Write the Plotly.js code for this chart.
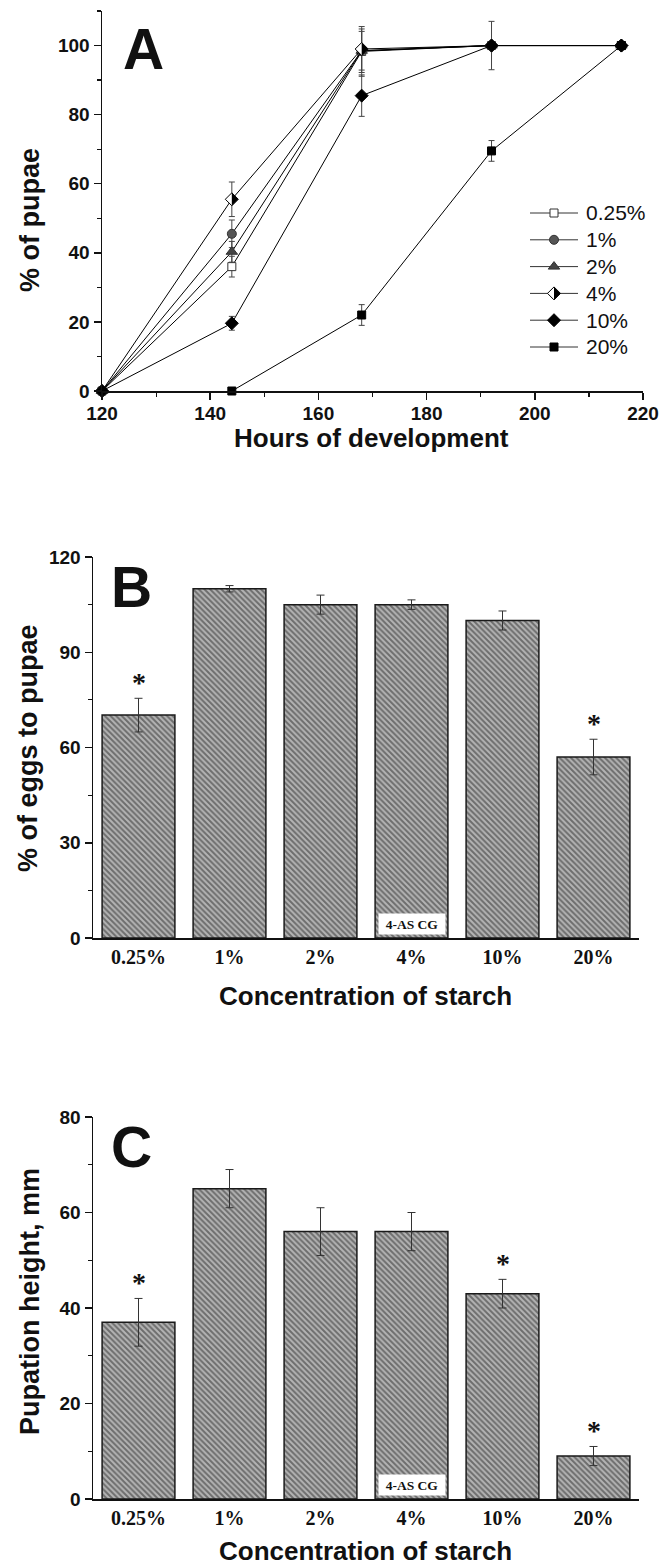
<!DOCTYPE html>
<html><head><meta charset="utf-8">
<script src="https://cdn.plot.ly/plotly-3.0.1.min.js"></script>
<style>html,body{margin:0;padding:0;background:#fff}</style>
</head><body><div id="chart" style="width:662px;height:1568px"></div>
<script>
// ---------- Panel A data ----------
const hours = [120, 144, 168, 192, 216];
const seriesNames = ['0.25%', '1%', '2%', '4%', '10%', '20%'];
const pupae025 = [0, 36, 98.3, 100, 100];
const err025   = [0, 3, 7.2, 0, 0];
const pupae1   = [0, 45.5, 98.5, 100, 100];
const err1     = [0, 4, 6.3, 0, 0];
const pupae2   = [0, 40.3, 98.5, 100, 100];
const err2     = [0, 3, 5.6, 0, 0];
const pupae4   = [0, 55.5, 99, 100, 100];
const err4     = [0, 5, 0, 0, 0];
const pupae10  = [0, 19.6, 85.5, 100, 100];
const err10    = [0, 2, 6, 7, 0];
const pupae20  = [null, 0, 22, 69.5, 100];
const err20    = [0, 0, 3, 3, 0];

// ---------- Panel B / C data ----------
const concentrations = ['0.25%', '1%', '2%', '4%', '10%', '20%'];
const eggsToPupae = [70.2, 110, 105, 105, 100, 57];
const eggsErr     = [5.3, 1, 3, 1.5, 3, 5.6];
const eggsSig     = [true, false, false, false, false, true];
const pupationHeight = [37, 65, 56, 56, 43, 9];
const heightErr      = [5, 4, 5, 4, 3, 2];
const heightSig      = [true, false, false, false, true, true];
const controlLabel = '4-AS CG';
const controlCategory = '4%';

// ---------- helpers (page pixels -> paper) ----------
const W = 662, H = 1568;
const px = x => x / W;
const py = y => 1 - y / H;

const SANS = 'Liberation Sans, Arial, sans-serif';
const SERIF = 'Liberation Serif, Times New Roman, serif';

const seriesData = [pupae025, pupae1, pupae2, pupae4, pupae10, pupae20];
const seriesErr  = [err025, err1, err2, err4, err10, err20];
const seriesMarker = [
  {symbol: 'square', size: 8, color: '#ffffff', line: {color: '#333', width: 1}},
  {symbol: 'circle', size: 9, color: '#555555', line: {color: '#333', width: 1}},
  {symbol: 'triangle-up', size: 10, color: '#444444', line: {color: '#333', width: 1}},
  {symbol: 'diamond', size: 10, color: '#ffffff', line: {color: '#000', width: 1}},
  {symbol: 'diamond', size: 10, color: '#000000', line: {color: '#000', width: 1}},
  {symbol: 'square', size: 8, color: '#000000', line: {color: '#000', width: 1}}
];
const halfDiamondPath = 'M0,6.5 L6.5,0 L0,-6.5 Z';

const traces = [];
const shapes = [];
const annotations = [];

seriesNames.forEach((name, i) => {
  traces.push({
    type: 'scatter', mode: 'lines+markers', name: name,
    x: hours, y: seriesData[i], xaxis: 'x', yaxis: 'y',
    line: {color: '#000', width: 1},
    marker: seriesMarker[i],
    error_y: {type: 'data', array: seriesErr[i], visible: true, color: '#444', thickness: 1, width: 3},
    cliponaxis: false, showlegend: false, hoverinfo: 'skip'
  });
});
// right half of the half-filled 4% diamonds
hours.forEach((h, j) => {
  if (pupae4[j] === null) return;
  shapes.push({type: 'path', xref: 'x', yref: 'y', xsizemode: 'pixel', ysizemode: 'pixel',
    xanchor: h, yanchor: pupae4[j], path: halfDiamondPath,
    fillcolor: '#000', line: {width: 0}, layer: 'above'});
});

// custom legend, drawn on an invisible page-pixel axis (x4/y4)
const legendRow0 = 213, legendStep = 26.8;
seriesNames.forEach((name, i) => {
  const ry = legendRow0 + i * legendStep;
  traces.push({type: 'scatter', mode: 'lines', x: [530, 578], y: [ry, ry], xaxis: 'x4', yaxis: 'y4',
    line: {color: '#333', width: 1}, showlegend: false, hoverinfo: 'skip'});
  traces.push({type: 'scatter', mode: 'markers', x: [554], y: [ry], xaxis: 'x4', yaxis: 'y4',
    marker: seriesMarker[i], showlegend: false, hoverinfo: 'skip', cliponaxis: false});
  if (i === 3) {
    shapes.push({type: 'path', xref: 'x4', yref: 'y4',
      path: `M554,${ry - 6.5} L560.5,${ry} L554,${ry + 6.5} Z`, fillcolor: '#000', line: {width: 0}, layer: 'above'});
  }
  annotations.push({xref: 'paper', yref: 'paper', x: px(584), y: py(ry), xanchor: 'left', yanchor: 'middle',
    text: name, showarrow: false, font: {family: SANS, size: 21, color: '#111'}});
});

// ---------- bars ----------
const barStyle = {
  color: '#b4b4b4',
  line: {color: '#1a1a1a', width: 1.5},
  pattern: {shape: '\\', fillmode: 'overlay', fgcolor: '#262626', size: 4, solidity: 0.5}
};
function addBars(values, errs, sig, xa, ya) {
  traces.push({type: 'bar', x: concentrations, y: values, xaxis: xa, yaxis: ya, width: 0.8,
    marker: barStyle,
    error_y: {type: 'data', array: errs, visible: true, color: '#333', thickness: 1, width: 4},
    showlegend: false, hoverinfo: 'skip'});
  concentrations.forEach((c, i) => {
    if (!sig[i]) return;
    annotations.push({xref: xa, yref: ya, x: c, y: values[i] + errs[i], yanchor: 'middle', yshift: 16,
      text: '*', showarrow: false, font: {family: SERIF, size: 28, color: '#111', weight: 'bold'}});
  });
  annotations.push({xref: xa, yref: ya, x: controlCategory, y: 0, yanchor: 'bottom', yshift: 3,
    text: controlLabel, showarrow: false, bgcolor: '#ffffff', width: 64, height: 18,
    font: {family: SERIF, size: 13.5, color: '#111', weight: 'bold'}});
}
addBars(eggsToPupae, eggsErr, eggsSig, 'x2', 'y2');
addBars(pupationHeight, heightErr, heightSig, 'x3', 'y3');

// ---------- titles & panel letters ----------
function title(text, x, y, angle, size) {
  annotations.push({xref: 'paper', yref: 'paper', x: px(x), y: py(y), xanchor: 'center', yanchor: 'middle',
    text: text, textangle: angle || 0, showarrow: false,
    font: {family: SANS, size: size || 26, color: '#111', weight: 'bold'}});
}
title('% of pupae', 30, 220, -90, 27);
title('Hours of development', 371, 438, 0, 26);
title('% of eggs to pupae', 28, 748, -90, 27);
title('Concentration of starch', 365, 996, 0, 26);
title('Pupation height, mm', 30, 1302, -90, 27);
title('Concentration of starch', 365, 1551, 0, 26);
title('A', 143, 49, 0, 57);
title('B', 131, 587, 0, 57);
title('C', 131, 1147, 0, 57);

// ---------- axes ----------
const tickFontSans = {family: SANS, size: 19, color: '#111', weight: 'bold'};
const tickFontSerif = {family: SERIF, size: 20, color: '#111', weight: 'bold'};
const baseAxis = {showline: true, linecolor: '#111', linewidth: 1.5, showgrid: false, zeroline: false,
  ticks: 'outside', ticklen: 7, tickwidth: 1.5, tickcolor: '#111', fixedrange: true};
const minorT = d => ({dtick: d, ticks: 'outside', ticklen: 4, tickwidth: 1.2, tickcolor: '#111', showgrid: false});

const layout = {
  width: W, height: H, margin: {l: 0, r: 0, t: 0, b: 0},
  paper_bgcolor: '#fff', plot_bgcolor: 'rgba(0,0,0,0)', showlegend: false,
  xaxis: Object.assign({}, baseAxis, {domain: [px(102), px(643)], range: [120, 220], tick0: 120, dtick: 20,
    minor: minorT(10), tickfont: tickFontSans, anchor: 'y', ticklabelstandoff: -2}),
  yaxis: Object.assign({}, baseAxis, {domain: [py(391), py(11)], range: [0, 110], tick0: 0, dtick: 20,
    minor: minorT(10), tickfont: tickFontSans, anchor: 'x'}),
  xaxis2: Object.assign({}, baseAxis, {domain: [px(93), px(639)], type: 'category', range: [-0.5, 5.5],
    ticks: '', tickfont: tickFontSerif, anchor: 'y2'}),
  yaxis2: Object.assign({}, baseAxis, {domain: [py(938), py(557)], range: [0, 120], tick0: 0, dtick: 30,
    minor: minorT(15), tickfont: tickFontSans, anchor: 'x2'}),
  xaxis3: Object.assign({}, baseAxis, {domain: [px(93), px(639)], type: 'category', range: [-0.5, 5.5],
    ticks: '', tickfont: tickFontSerif, anchor: 'y3'}),
  yaxis3: Object.assign({}, baseAxis, {domain: [py(1499), py(1117)], range: [0, 80], tick0: 0, dtick: 20,
    minor: minorT(10), tickfont: tickFontSans, anchor: 'x3'}),
  xaxis4: {domain: [0, 1], range: [0, W], visible: false, fixedrange: true, anchor: 'y4'},
  yaxis4: {domain: [0, 1], range: [H, 0], visible: false, fixedrange: true, anchor: 'x4'},
  shapes: shapes,
  annotations: annotations
};

Plotly.newPlot('chart', traces, layout, {staticPlot: true, displayModeBar: false});
</script>
</body></html>
